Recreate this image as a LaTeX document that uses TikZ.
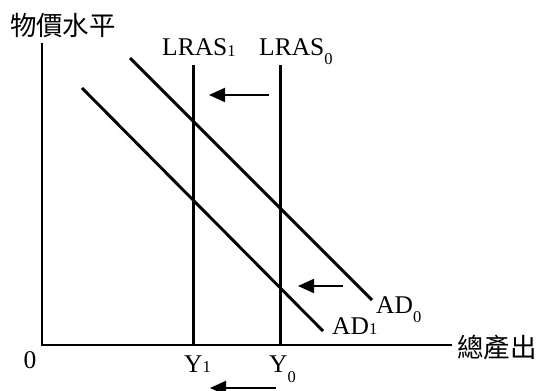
\documentclass[tikz,border=0pt]{standalone}
\usepackage{fontspec}
\setmainfont{Liberation Serif}
\newfontfamily\cjk{Noto Sans CJK TC}
\usetikzlibrary{arrows.meta}
\newcommand\lowsub[2]{\raisebox{#1}{\fontsize{16.5}{18}\selectfont #2}}
\begin{document}
\begin{tikzpicture}[x=1pt,y=-1pt, axis/.style={line width=2pt}, curve/.style={line width=2.9pt}, vline/.style={line width=3.4pt}, shiftarr/.style={-{Triangle[length=16pt,width=14pt]},line width=2pt}, lbl/.style={inner sep=0pt,anchor=base west,font=\fontsize{25.5}{28}\selectfont}, zh/.style={inner sep=0pt,font=\fontsize{26.5}{28}\selectfont\cjk}]
\useasboundingbox (0,0) rectangle (539,391);
% axes
\coordinate (O) at (42,345);
\coordinate (ytop) at (42,43);
\coordinate (xend) at (452,345);
\draw[axis] (ytop) -- (O) -- (xend);
\node[zh] (price) at (63,25) {物價水平};
\node[zh,anchor=west] (output) at (457,347) {總產出};
\node[lbl,anchor=center] (origin) at (30,360) {0};
% long run supply
\coordinate (lras1top) at (193.5,65); \coordinate (lras1bot) at (193.5,345);
\coordinate (lras0top) at (280.5,65); \coordinate (lras0bot) at (280.5,345);
\draw[vline] (lras1top) -- (lras1bot);
\draw[vline] (lras0top) -- (lras0bot);
\node[lbl] (lras1) at (162,55) {LRAS\lowsub{-1pt}{1}};
\node[lbl] (lras0) at (259,55) {LRAS\lowsub{-9pt}{0}};
\node[lbl] (y1) at (184,372) {Y\lowsub{0pt}{1}};
\node[lbl] (y0) at (269,372) {Y\lowsub{-10pt}{0}};
% aggregate demand
\coordinate (ad0a) at (130,58); \coordinate (ad0b) at (372,300);
\coordinate (ad1a) at (82,88); \coordinate (ad1b) at (323,331);
\draw[curve] (ad0a) -- (ad0b);
\draw[curve] (ad1a) -- (ad1b);
\node[lbl] (ad0) at (376,313) {AD\lowsub{-9pt}{0}};
\node[lbl] (ad1) at (332,334) {AD\lowsub{0pt}{1}};
% shifts
\coordinate (s1a) at (269,95); \coordinate (s1b) at (209,95);
\coordinate (s2a) at (343,286); \coordinate (s2b) at (298,286);
\coordinate (s3a) at (276,388); \coordinate (s3b) at (210,388);
\draw[shiftarr] (s1a) -- (s1b);
\draw[shiftarr] (s2a) -- (s2b);
\draw[shiftarr] (s3a) -- (s3b);
\end{tikzpicture}
\end{document}
